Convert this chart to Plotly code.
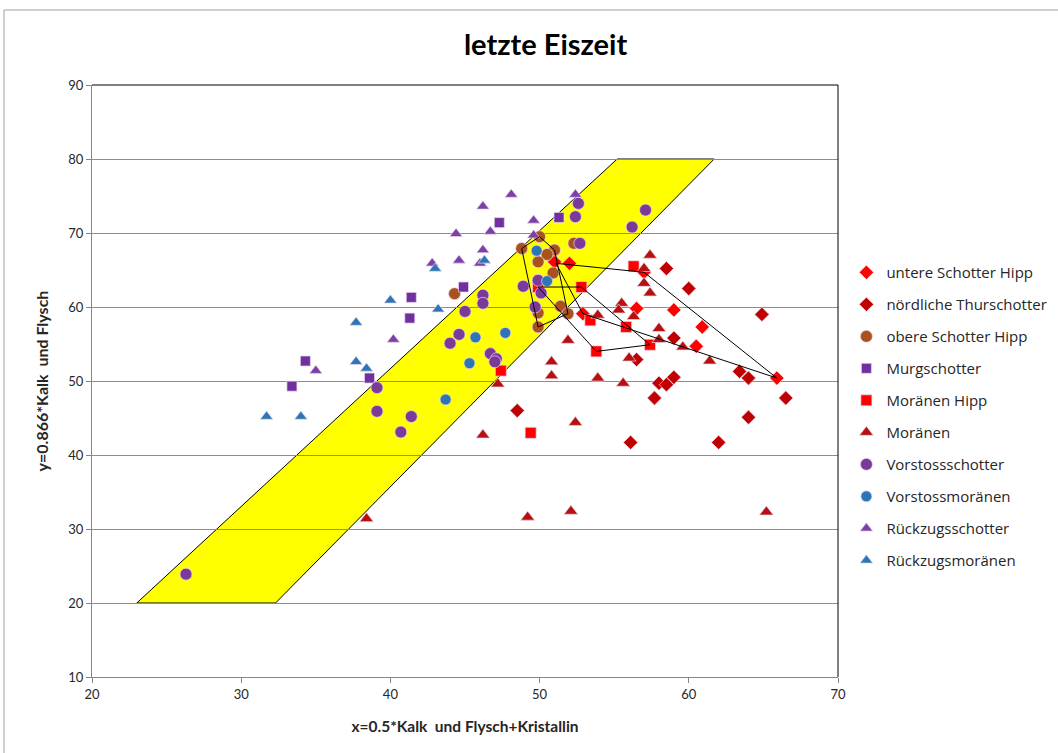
import plotly.graph_objects as go

# ---------------- data ----------------
# untere Schotter Hipp (bright red diamonds)
untere_x = [51.0, 52.0, 57.0, 56.5, 59.0, 60.9, 60.5, 65.9, 52.9]
untere_y = [66.1, 65.9, 64.7, 59.8, 59.6, 57.3, 54.7, 50.4, 59.1]
# nördliche Thurschotter (dark red diamonds)
thur_x = [58.5, 60.0, 64.9, 63.4, 64.0, 66.5, 64.0, 58.0, 58.5, 59.0, 57.7, 48.5, 56.1, 62.0, 56.5, 59.0]
thur_y = [65.2, 62.5, 59.0, 51.3, 50.4, 47.7, 45.1, 49.7, 49.5, 50.5, 47.7, 46.0, 41.7, 41.7, 52.9, 55.8]
# obere Schotter Hipp (brown circles)
obere_x = [44.3, 50.0, 48.8, 51.0, 50.5, 49.9, 52.3, 50.9, 51.4, 51.9, 49.9, 49.9]
obere_y = [61.8, 69.5, 67.9, 67.7, 67.1, 66.1, 68.6, 64.6, 60.1, 59.1, 57.3, 59.2]
# Murgschotter (purple squares)
murg_x = [47.3, 51.3, 44.9, 41.4, 41.3, 34.3, 33.4, 38.6]
murg_y = [71.4, 72.1, 62.7, 61.3, 58.5, 52.7, 49.3, 50.4]
# Moränen Hipp (red squares)
mhipp_x = [56.3, 52.8, 49.9, 53.4, 55.8, 57.4, 53.8, 47.4, 49.4]
mhipp_y = [65.5, 62.7, 62.7, 58.2, 57.3, 54.9, 54.0, 51.4, 43.0]
# Moränen (dark red triangles)
mor_x = [57.4, 57.0, 57.0, 57.4, 55.5, 55.3, 56.3, 53.9, 58.0, 58.0, 59.6, 61.4, 51.9,
         50.8, 50.8, 53.9, 55.6, 56.0, 47.2, 38.4, 46.2, 49.2, 52.1, 52.4, 65.2]
mor_y = [67.0, 65.2, 63.2, 61.9, 60.5, 59.6, 58.7, 58.9, 57.1, 55.6, 54.6, 52.7, 55.5,
         52.6, 50.7, 50.4, 49.7, 53.1, 49.6, 31.4, 42.7, 31.6, 32.4, 44.4, 32.3]
# Vorstossschotter (purple circles)
vs_x = [26.3, 39.1, 41.4, 40.7, 39.1, 44.0, 44.6, 45.0, 46.2, 46.2, 46.7, 47.1, 47.0,
        48.9, 52.6, 52.4, 52.7, 49.9, 50.1, 49.7, 57.1, 56.2]
vs_y = [23.9, 45.9, 45.2, 43.1, 49.1, 55.1, 56.3, 59.4, 61.6, 60.5, 53.7, 53.0, 52.6,
        62.8, 74.0, 72.2, 68.6, 63.6, 61.9, 60.0, 73.1, 70.8]
# Vorstossmoränen (blue circles)
vm_x = [49.8, 50.5, 45.7, 47.7, 45.3, 43.7]
vm_y = [67.6, 63.5, 55.9, 56.5, 52.4, 47.5]
# Rückzugsschotter (purple triangles)
rs_x = [48.1, 46.2, 49.6, 46.7, 44.4, 46.2, 44.6, 42.8, 46.0, 52.4, 49.6, 40.2, 35.0]
rs_y = [75.2, 73.6, 71.7, 70.2, 69.9, 67.7, 66.3, 65.9, 65.9, 75.2, 69.7, 55.6, 51.4]
# Rückzugsmoränen (blue triangles)
rm_x = [31.7, 34.0, 37.7, 37.7, 38.4, 40.0, 43.2, 43.0, 46.3]
rm_y = [45.2, 45.2, 57.9, 52.6, 51.7, 60.9, 59.7, 65.2, 66.3]

# outlines drawn around groups
outline_obere_x = [48.8, 50.0, 51.0, 51.9, 49.9, 48.8]
outline_obere_y = [67.9, 69.5, 67.7, 59.1, 57.3, 67.9]
outline_untere_x = [51.1, 57.0, 65.9, 52.9, 51.1]
outline_untere_y = [65.9, 64.7, 50.4, 59.1, 65.9]
outline_mhipp_x = [49.9, 52.8, 57.4, 53.8, 49.9]
outline_mhipp_y = [62.7, 62.7, 54.9, 54.0, 62.7]

# yellow band (corners)
band_x = [23.0, 32.3, 61.7, 55.2]
band_y = [20, 20, 80, 80]

x_ticks = [20, 30, 40, 50, 60, 70]
y_ticks = [10, 20, 30, 40, 50, 60, 70, 80, 90]

# ---------------- figure ----------------
series = [
    ("untere Schotter Hipp", untere_x, untere_y, "diamond", "#FF0000", 11),
    ("nördliche Thurschotter", thur_x, thur_y, "diamond", "#C00000", 11),
    ("obere Schotter Hipp", obere_x, obere_y, "circle", "#A9521E", 12),
    ("Murgschotter", murg_x, murg_y, "square", "#7030A0", 10),
    ("Moränen Hipp", mhipp_x, mhipp_y, "square", "#FF0000", 11),
    ("Moränen", mor_x, mor_y, "triangle-up", "#B80F0F", 12),
    ("Vorstossschotter", vs_x, vs_y, "circle", "#7B3A99", 12),
    ("Vorstossmoränen", vm_x, vm_y, "circle", "#2E75B6", 11),
    ("Rückzugsschotter", rs_x, rs_y, "triangle-up", "#7F3FA8", 11),
    ("Rückzugsmoränen", rm_x, rm_y, "triangle-up", "#2E75B6", 11),
]

fig = go.Figure()
for name, xs, ys, sym, col, sz in series:
    fig.add_trace(go.Scatter(
        x=xs, y=ys, mode="markers", name=name, legendgroup=name,
        marker=dict(symbol=sym, color=col, size=sz,
                    line=dict(color="rgba(230,215,235,0.7)", width=1)),
        hoverinfo="skip"))

for ox, oy in [(outline_obere_x, outline_obere_y),
               (outline_untere_x, outline_untere_y),
               (outline_mhipp_x, outline_mhipp_y)]:
    fig.add_trace(go.Scatter(x=ox, y=oy, mode="lines", showlegend=False,
                             line=dict(color="black", width=1), hoverinfo="skip"))

band_path = "M " + " L ".join(f"{bx},{by}" for bx, by in zip(band_x, band_y)) + " Z"

shapes = [
    dict(type="path", path=band_path, xref="x", yref="y", layer="below",
         fillcolor="#FFFF00", line=dict(color="black", width=1)),
    # plot-area border top/right
    dict(type="line", xref="paper", yref="paper", x0=0, x1=1, y0=1, y1=1,
         line=dict(color="black", width=1)),
    dict(type="line", xref="paper", yref="paper", x0=1, x1=1, y0=0, y1=1,
         line=dict(color="black", width=1)),
    # chart-area frame
    dict(type="rect", xref="paper", yref="paper", x0=-0.118, x1=1.40, y0=-0.30, y1=1.1267,
         line=dict(color="#A0A0A0", width=1), layer="below"),
]

fig.update_layout(
    width=1058, height=753,
    margin=dict(l=92, r=220, t=85, b=76, autoexpand=False),
    paper_bgcolor="white", plot_bgcolor="white",
    font=dict(family="Open Sans, Lato, sans-serif", size=13, color="#262626"),
    title=dict(text="<b>letzte Eiszeit</b>", x=0.608, xref="paper", xanchor="center",
               y=0.94, yref="container", yanchor="middle",
               font=dict(family="Lato, Open Sans, sans-serif", size=29, color="black")),
    xaxis=dict(range=[20, 70], tickvals=x_ticks, showgrid=False, zeroline=False,
               showline=True, linecolor="#868686", linewidth=1,
               ticks="outside", ticklen=5, tickcolor="#868686",
               tickfont=dict(size=13, family="Lato, sans-serif"),
               title=dict(text="<b>x=0.5*Kalk  und Flysch+Kristallin</b>",
                          font=dict(size=15.5, family="Lato, sans-serif"), standoff=20)),
    yaxis=dict(range=[10, 90], tickvals=y_ticks, showgrid=True, gridcolor="#8C8C8C",
               gridwidth=1, zeroline=False, showline=True, linecolor="#868686",
               linewidth=1, ticks="outside", ticklen=5, tickcolor="#868686",
               tickfont=dict(size=13, family="Lato, sans-serif"),
               title=dict(text="<b>y=0.866*Kalk  und Flysch</b>",
                          font=dict(size=16, family="Lato, sans-serif"), standoff=15)),
    legend=dict(x=0.8, xref="container", xanchor="left", y=0.711, yanchor="top",
                font=dict(size=15, family="Open Sans, sans-serif", color="#262626"),
                tracegroupgap=9.5, itemwidth=30, bgcolor="rgba(0,0,0,0)"),
    shapes=shapes,
    showlegend=True,
)

fig.write_html("out.html", config={"displayModeBar": False},
               post_script="document.body.style.margin='0';")
